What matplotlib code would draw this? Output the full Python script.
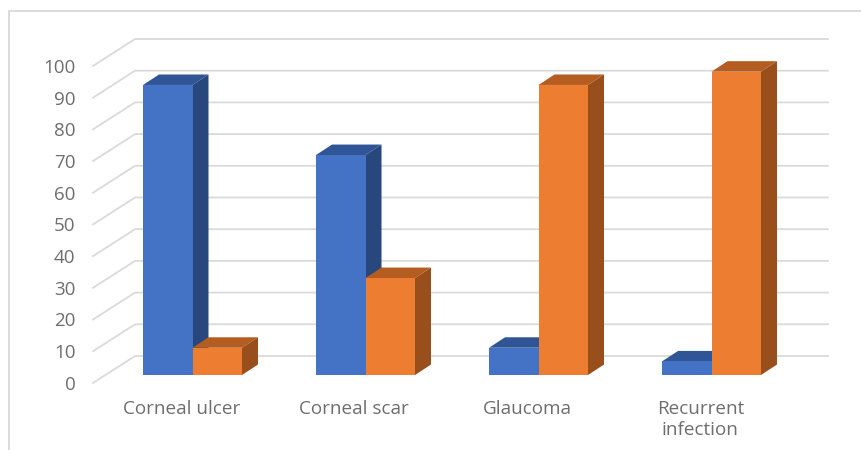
#!/usr/bin/env python3

from matplotlib import pyplot as plt

plt.rcParams['font.family'] = ['Open Sans', 'DejaVu Sans']

CATEGORIES = ['Corneal ulcer', 'Corneal scar', 'Glaucoma', 'Recurrent\ninfection']
BLUE_VALUES = [91.5, 69.4, 8.6, 4.3]
ORANGE_VALUES = [8.6, 30.6, 91.5, 95.7]
TICKS = list(range(0, 101, 10))

BLUE = ('#4472C4', '#2F5597', '#28477D')
ORANGE = ('#ED7D31', '#B55D20', '#984F1C')
GRID = '#DADADA'
TEXT = '#6E6E6E'

WIDTH = 0.286
# oblique offset of the bar depth, in data units
DX, DY = 0.0925, 3.3

fig = plt.figure(figsize=(8.61, 4.5), dpi=100)
ax = fig.add_axes([0, 0, 1, 1])
ax.set_xlim(-1.1127, 3.864)
ax.set_ylim(-23.66, 118.3)
ax.axis('off')

# chart frame, open at the right and bottom
ax.plot([0.0099, 0.0099, 1], [0, 0.9756, 0.9756], transform=ax.transAxes,
        color=GRID, linewidth=1.4, clip_on=False)

# back wall gridlines with their slanted floor part
for tick in TICKS:
    ax.plot([-0.575, -0.332, 3.673], [tick - 2.5, tick + 6, tick + 6],
            color=GRID, linewidth=1.3, zorder=1)
    ax.text(-0.676, tick - 3.1, str(tick), color=TEXT, fontsize=13.5,
            ha='right', va='center')


def bar3d(left, value, colors, zorder):
    ax.bar(left, value, WIDTH, align='edge', color=colors[0], zorder=zorder + 0.2)
    right = left + WIDTH
    ax.fill([left, right, right + DX, left + DX],
            [value, value, value + DY, value + DY],
            color=colors[1], linewidth=0, zorder=zorder)
    ax.fill([right, right + DX, right + DX, right],
            [0, DY, value + DY, value],
            color=colors[2], linewidth=0, zorder=zorder)


for i, name in enumerate(CATEGORIES):
    bar3d(i - WIDTH, BLUE_VALUES[i], BLUE, 2 + i)
    bar3d(i, ORANGE_VALUES[i], ORANGE, 2.5 + i)
    ax.text(i - 0.065, -7.8, name, color=TEXT, fontsize=13.6, ha='center',
            va='top', linespacing=1.2)

plt.savefig('out.png', dpi=100)
